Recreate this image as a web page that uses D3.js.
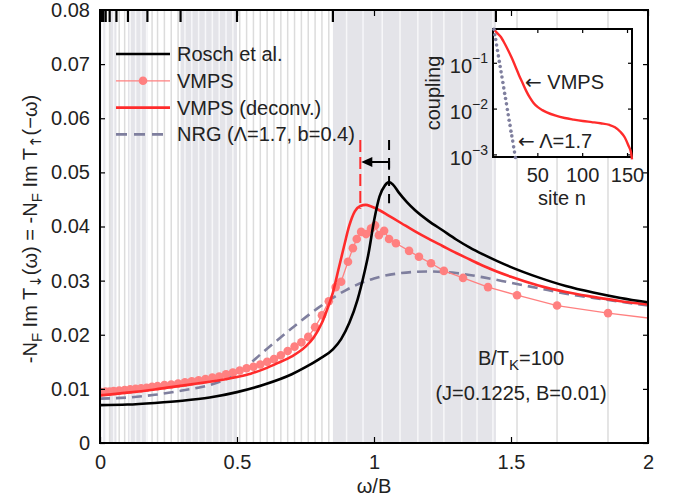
<!DOCTYPE html>
<html>
<head>
<meta charset="utf-8">
<script src="https://cdn.jsdelivr.net/npm/d3@7/dist/d3.min.js"></script>
<style>
body { margin: 0; background: #fff; }
text { font-family: "Liberation Sans", Arial, Helvetica, sans-serif; fill: #222; }
.arrow { font-family: "DejaVu Sans", sans-serif; }
</style>
</head>
<body>
<div id="chart"></div>
<script>
// ---- main panel data ----
var roschOmega = [0,0.1,0.2,0.3,0.4,0.5,0.6,0.7,0.75,0.8,0.85,0.88,0.91,0.94,0.965,0.98,1.0,1.02,1.04,1.055,1.07,1.09,1.12,1.15,1.2,1.25,1.3,1.35,1.4,1.45,1.5,1.6,1.7,1.8,1.9,2.0];
var roschValue = [0.0070,0.0071,0.0074,0.0078,0.0084,0.0094,0.0108,0.0127,0.0140,0.0155,0.0173,0.0192,0.0222,0.0265,0.0315,0.0350,0.0410,0.0455,0.0476,0.0482,0.0477,0.0463,0.0445,0.0430,0.0410,0.0393,0.0376,0.0361,0.0348,0.0336,0.0325,0.0306,0.0290,0.0278,0.0268,0.0260];

var deconvOmega = [0,0.1,0.2,0.3,0.4,0.5,0.55,0.6,0.65,0.7,0.75,0.78,0.81,0.83,0.85,0.87,0.89,0.91,0.93,0.95,0.97,0.99,1.02,1.05,1.1,1.15,1.2,1.25,1.3,1.35,1.4,1.5,1.6,1.7,1.8,1.9,2.0];
var deconvValue = [0.0088,0.0093,0.0099,0.0106,0.0113,0.0122,0.0128,0.0137,0.0148,0.0160,0.0178,0.0195,0.0222,0.0248,0.0278,0.0320,0.0362,0.0402,0.0428,0.0438,0.0440,0.0437,0.0430,0.0421,0.0406,0.0391,0.0377,0.0364,0.0351,0.0339,0.0327,0.0307,0.0291,0.0279,0.0270,0.0262,0.0256];

var nrgOmega = [0,0.1,0.2,0.3,0.4,0.5,0.6,0.7,0.8,0.9,1.0,1.1,1.2,1.3,1.4,1.5,1.6,1.7,1.8,1.9,2.0];
var nrgValue = [0.0082,0.0084,0.0089,0.0097,0.0107,0.0128,0.0170,0.0212,0.0251,0.0283,0.0304,0.0314,0.0317,0.0314,0.0306,0.0296,0.0286,0.0276,0.0268,0.0261,0.0254];

var vmpsOmega = [0.005,0.02,0.035,0.05,0.07,0.09,0.11,0.13,0.15,0.17,
  0.19,0.21,0.235,0.26,0.285,0.31,0.335,0.36,0.385,0.41,
  0.435,0.46,0.485,0.51,0.535,0.56,0.585,0.61,0.635,0.66,
  0.685,0.71,0.735,0.76,0.785,0.81,0.835,0.86,0.88,0.905,
  0.923,0.937,0.953,0.971,0.989,1.004,1.018,1.037,1.055,1.08,
  1.128,1.164,1.208,1.255,1.325,1.416,1.522,1.668,1.854,2.08];
var vmpsValue = [0.0094,0.0095,0.0095,0.0096,0.0097,0.0098,0.0099,0.0100,0.0101,0.0102,
  0.0104,0.0105,0.0107,0.0108,0.0110,0.0112,0.0114,0.0116,0.0118,0.0121,
  0.0123,0.0127,0.0130,0.0134,0.0138,0.0141,0.0145,0.0150,0.0155,0.0162,
  0.0170,0.0178,0.0186,0.0196,0.0214,0.0236,0.0262,0.0288,0.0298,0.0335,
  0.0360,0.0377,0.0390,0.0386,0.0396,0.0402,0.0384,0.0392,0.0377,0.0369,
  0.0355,0.0344,0.0332,0.0318,0.0305,0.0288,0.0273,0.0254,0.0240,0.0226];

// energies of the VMPS chain (thin vertical lines)
var vmpsLines = [0.005,0.02,0.035,0.05,0.07,0.09,0.11,0.13,0.15,0.17,
  0.19,0.21,0.235,0.26,0.285,0.31,0.335,0.36,0.385,0.41,
  0.435,0.46,0.485,0.51,0.535,0.56,0.585,0.61,0.635,0.66,
  0.685,0.71,0.735,0.76,0.785,0.81,0.835,
  0.90,0.96,1.03,1.095,1.16,1.21,1.255,1.32,1.376,1.434,1.522,1.668,1.854];

// NRG energies (top ticks and alternating bands)
var nrgTicks = [1.445,0.85,0.5,0.294,0.173,0.102,0.06,0.0353,0.0208,0.0122,0.0072,0.0042,0.0025,0.0015];

var xTicks = [0,0.5,1,1.5,2];
var yTicks = [0,0.01,0.02,0.03,0.04,0.05,0.06,0.07,0.08];

var peakVmps = 0.95, peakRosch = 1.055;

// ---- inset data ----
var insetVmpsSite = [1,5,9,13,17,21,25,29,33,37,41,45,50,55,60,70,80,90,100,110,120,130,136,142,147,151,154,155];
var insetVmpsCoupling = [0.55,0.45,0.37,0.27,0.19,0.13,0.085,0.055,0.037,0.025,0.018,0.0138,0.011,0.0095,0.0085,0.0072,0.0064,0.0059,0.0055,0.0052,0.0049,0.0045,0.0040,0.0032,0.0024,0.0016,0.0011,0.0008];
var insetNrgSite = [1,2,3,4,5,6,7,8,9,10,11,12,13,14,15,16,17,18,19,20,21,22,23,24,25];
var insetNrgCoupling = [0.55,0.42,0.33,0.25,0.19,0.145,0.11,0.085,0.065,0.05,0.038,0.029,0.022,0.017,0.013,0.0098,0.0075,0.0057,0.0044,0.0033,0.0026,0.002,0.0015,0.00115,0.00088];
var insetXTicks = [50,100,150];
var insetYTicks = [0.1,0.01,0.001];

var W = 674, H = 497;
var pLeft = 100, pRight = 648, pTop = 10, pBottom = 443;

var svg = d3.select("#chart").append("svg")
    .attr("width", W)
    .attr("height", H);

var x = d3.scaleLinear().domain([0, 2]).range([pLeft, pRight]);
var y = d3.scaleLinear().domain([0, 0.08]).range([pBottom, pTop]);

svg.append("clipPath").attr("id", "plotclip")
    .append("rect")
    .attr("x", pLeft).attr("y", pTop)
    .attr("width", pRight - pLeft).attr("height", pBottom - pTop);

var plot = svg.append("g").attr("clip-path", "url(#plotclip)");

// alternating grey bands between NRG energies
var bands = [];
for (var i = 0; i < nrgTicks.length - 1; i++) {
    bands.push({ lo: nrgTicks[i + 1], hi: nrgTicks[i], grey: i % 2 === 0 });
}
plot.selectAll("rect.band")
    .data(bands.filter(d => d.grey))
    .enter().append("rect")
    .attr("class", "band")
    .attr("x", d => x(d.lo))
    .attr("width", d => x(d.hi) - x(d.lo))
    .attr("y", pTop)
    .attr("height", pBottom - pTop)
    .attr("fill", "#e4e4e9");

function inGrey(w) {
    return bands.some(b => b.grey && w >= b.lo && w < b.hi);
}

plot.selectAll("line.vmps-level")
    .data(vmpsLines)
    .enter().append("line")
    .attr("class", "vmps-level")
    .attr("x1", d => x(d)).attr("x2", d => x(d))
    .attr("y1", pTop).attr("y2", pBottom)
    .attr("stroke", d => inGrey(d) ? "#f7f7f9" : "#dcdcdc")
    .attr("stroke-width", 1.5);

// curves
var nrgData = nrgOmega.map((w, i) => [w, nrgValue[i]]);
var roschData = roschOmega.map((w, i) => [w, roschValue[i]]);
var deconvData = deconvOmega.map((w, i) => [w, deconvValue[i]]);
var vmpsData = vmpsOmega.map((w, i) => [w, vmpsValue[i]]);

var smooth = d3.line().x(d => x(d[0])).y(d => y(d[1])).curve(d3.curveMonotoneX);
var straight = d3.line().x(d => x(d[0])).y(d => y(d[1]));

plot.append("path")
    .attr("d", smooth(nrgData))
    .attr("fill", "none")
    .attr("stroke", "#7f7f9e")
    .attr("stroke-width", 2.6)
    .attr("stroke-dasharray", "10,6");

plot.append("path")
    .attr("d", straight(vmpsData))
    .attr("fill", "none")
    .attr("stroke", "#ff8080")
    .attr("stroke-width", 1.3);

plot.selectAll("circle.vmps")
    .data(vmpsData)
    .enter().append("circle")
    .attr("class", "vmps")
    .attr("cx", d => x(d[0]))
    .attr("cy", d => y(d[1]))
    .attr("r", 4.3)
    .attr("fill", "#ff8080");

plot.append("path")
    .attr("d", smooth(deconvData))
    .attr("fill", "none")
    .attr("stroke", "#ff2b2b")
    .attr("stroke-width", 2.6);

plot.append("path")
    .attr("d", smooth(roschData))
    .attr("fill", "none")
    .attr("stroke", "#000")
    .attr("stroke-width", 2.6);

// peak markers and shift arrow
svg.append("line")
    .attr("x1", x(peakVmps)).attr("x2", x(peakVmps))
    .attr("y1", y(0.056)).attr("y2", y(0.0433))
    .attr("stroke", "#ff2b2b").attr("stroke-width", 2)
    .attr("stroke-dasharray", "12,5");
svg.append("line")
    .attr("x1", x(peakRosch)).attr("x2", x(peakRosch))
    .attr("y1", y(0.056)).attr("y2", y(0.0443))
    .attr("stroke", "#000").attr("stroke-width", 2)
    .attr("stroke-dasharray", "10,8");
svg.append("path")
    .attr("d", "M" + x(peakRosch) + "," + y(0.0505) + "V" + y(0.0519) + "H" + (x(peakVmps) + 10))
    .attr("fill", "none").attr("stroke", "#000").attr("stroke-width", 2);
svg.append("path")
    .attr("d", "M" + (x(peakVmps) + 1) + "," + y(0.0519) + "l11,-5v10z")
    .attr("fill", "#000");

// NRG energy ticks on top
svg.selectAll("line.nrg-tick")
    .data(nrgTicks)
    .enter().append("line")
    .attr("class", "nrg-tick")
    .attr("x1", d => x(d)).attr("x2", d => x(d))
    .attr("y1", pTop).attr("y2", pTop + 12)
    .attr("stroke", "#000").attr("stroke-width", 2.2);

// axes
function styleAxis(g) {
    g.attr("font-size", 20).attr("font-family", null);
    g.selectAll(".domain").remove();
    g.selectAll(".tick line").attr("stroke", "#000").attr("stroke-width", 1.2);
    g.selectAll(".tick text").attr("fill", "#222");
}
svg.append("g")
    .attr("transform", "translate(0," + pBottom + ")")
    .call(d3.axisBottom(x).tickValues(xTicks).tickSizeInner(-6).tickSizeOuter(0).tickPadding(12).tickFormat(d3.format("")))
    .call(styleAxis);
svg.append("g")
    .attr("transform", "translate(0," + pTop + ")")
    .call(d3.axisTop(x).tickValues(xTicks).tickSizeInner(-6).tickSizeOuter(0).tickFormat(""))
    .call(styleAxis);
svg.append("g")
    .attr("transform", "translate(" + pLeft + ",0)")
    .call(d3.axisLeft(y).tickValues(yTicks).tickSizeInner(-5).tickSizeOuter(0).tickPadding(10)
        .tickFormat(d => d === 0 ? "0" : d3.format(".2f")(d)))
    .call(styleAxis);
svg.append("g")
    .attr("transform", "translate(" + pRight + ",0)")
    .call(d3.axisRight(y).tickValues(yTicks).tickSizeInner(-5).tickSizeOuter(0).tickFormat(""))
    .call(styleAxis);

svg.append("rect")
    .attr("x", pLeft).attr("y", pTop)
    .attr("width", pRight - pLeft).attr("height", pBottom - pTop)
    .attr("fill", "none").attr("stroke", "#000").attr("stroke-width", 2);

// axis labels
svg.append("text")
    .attr("x", (pLeft + pRight) / 2).attr("y", 486)
    .attr("text-anchor", "middle").attr("dominant-baseline", "central")
    .attr("font-size", 20)
    .text("ω/B");

var ylab = svg.append("text")
    .attr("transform", "translate(30," + 229 + ") rotate(-90)")
    .attr("text-anchor", "middle").attr("dominant-baseline", "central")
    .attr("font-size", 20);
var ylabParts = [["-N", 0], ["F", 1], [" Im T", 0], ["↓", 2], ["(ω) = -N", 0], ["F", 1], [" Im T", 0], ["↑", 2], ["(−ω)", 0]];
var wasSub = false;
ylabParts.forEach(function(p) {
    var t = ylab.append("tspan").text(p[0]);
    if (p[1]) {
        t.attr("dy", 6).attr("font-size", 15);
        if (p[1] === 2) t.attr("class", "arrow");
        wasSub = true;
    } else if (wasSub) { t.attr("dy", -6); wasSub = false; }
});

// legend
var legendRows = [
    { label: "Rosch et al.", color: "#000", width: 2.6, dash: null, marker: false },
    { label: "VMPS", color: "#ff8080", width: 1.3, dash: null, marker: true },
    { label: "VMPS (deconv.)", color: "#ff2b2b", width: 2.6, dash: null, marker: false },
    { label: "NRG (Λ=1.7, b=0.4)", color: "#7f7f9e", width: 2.6, dash: "11,7", marker: false }
];
var legend = svg.append("g");
legendRows.forEach(function(r, i) {
    var yy = 54 + i * 26.8;
    legend.append("line")
        .attr("x1", 116).attr("x2", 170).attr("y1", yy).attr("y2", yy)
        .attr("stroke", r.color).attr("stroke-width", r.width)
        .attr("stroke-dasharray", r.dash);
    if (r.marker) {
        legend.append("circle").attr("cx", 143).attr("cy", yy).attr("r", 4.3).attr("fill", r.color);
    }
    legend.append("text")
        .attr("x", 177).attr("y", yy)
        .attr("dominant-baseline", "central")
        .attr("font-size", 20)
        .text(r.label);
});

// parameter annotation
var ann = svg.append("text")
    .attr("x", 521).attr("y", 358)
    .attr("text-anchor", "middle").attr("dominant-baseline", "central")
    .attr("font-size", 20);
ann.append("tspan").text("B/T");
ann.append("tspan").attr("dy", 6).attr("font-size", 15).text("K");
ann.append("tspan").attr("dy", -6).text("=100");
svg.append("text")
    .attr("x", 521).attr("y", 393)
    .attr("text-anchor", "middle").attr("dominant-baseline", "central")
    .attr("font-size", 20)
    .text("(J=0.1225, B=0.01)");

// ---- inset ----
var ix = d3.scaleLinear().domain([0, 155]).range([493, 632]);
var iy = d3.scaleLog().domain([0.0009, 0.56]).range([157, 29]);

var inset = svg.append("g");
inset.append("rect")
    .attr("x", 493).attr("y", 29)
    .attr("width", 632 - 493).attr("height", 157 - 29)
    .attr("fill", "#fff");

inset.selectAll("line.ixt")
    .data(insetXTicks)
    .enter().append("line")
    .attr("x1", d => ix(d)).attr("x2", d => ix(d))
    .attr("y1", 157).attr("y2", 153)
    .attr("stroke", "#000").attr("stroke-width", 1.2);
inset.selectAll("line.ixt2")
    .data(insetXTicks)
    .enter().append("line")
    .attr("x1", d => ix(d)).attr("x2", d => ix(d))
    .attr("y1", 29).attr("y2", 33)
    .attr("stroke", "#000").attr("stroke-width", 1.2);
inset.selectAll("line.iyt")
    .data(insetYTicks)
    .enter().append("line")
    .attr("x1", 493).attr("x2", 497)
    .attr("y1", d => iy(d)).attr("y2", d => iy(d))
    .attr("stroke", "#000").attr("stroke-width", 1.2);
inset.selectAll("line.iyt2")
    .data(insetYTicks)
    .enter().append("line")
    .attr("x1", 632).attr("x2", 628)
    .attr("y1", d => iy(d)).attr("y2", d => iy(d))
    .attr("stroke", "#000").attr("stroke-width", 1.2);

inset.append("rect")
    .attr("x", 493).attr("y", 29)
    .attr("width", 632 - 493).attr("height", 157 - 29)
    .attr("fill", "none").attr("stroke", "#000").attr("stroke-width", 2);

var iline = d3.line().x(d => ix(d[0])).y(d => iy(d[1])).curve(d3.curveMonotoneX);
inset.append("path")
    .attr("d", iline(insetVmpsSite.map((n, i) => [n, insetVmpsCoupling[i]])))
    .attr("fill", "none").attr("stroke", "#ff2b2b").attr("stroke-width", 2.4);

inset.selectAll("circle.inrg")
    .data(insetNrgSite.map((n, i) => [n, insetNrgCoupling[i]]))
    .enter().append("circle")
    .attr("class", "inrg")
    .attr("cx", d => ix(d[0]))
    .attr("cy", d => iy(d[1]))
    .attr("r", 1.8)
    .attr("fill", "#7f7f9e");

inset.selectAll("text.ixl")
    .data(insetXTicks)
    .enter().append("text")
    .attr("x", d => ix(d)).attr("y", 175)
    .attr("text-anchor", "middle").attr("dominant-baseline", "central")
    .attr("font-size", 20)
    .text(d => d);

insetYTicks.forEach(function(v) {
    var t = inset.append("text")
        .attr("x", 488).attr("y", iy(v) + 3)
        .attr("text-anchor", "end").attr("dominant-baseline", "central")
        .attr("font-size", 20);
    t.append("tspan").text("10");
    t.append("tspan").attr("dy", -8).attr("font-size", 14).text("−" + Math.round(-Math.log10(v)));
});

inset.append("text")
    .attr("transform", "translate(433,93) rotate(-90)")
    .attr("text-anchor", "middle").attr("dominant-baseline", "central")
    .attr("font-size", 20)
    .text("coupling");
inset.append("text")
    .attr("x", 562).attr("y", 198)
    .attr("text-anchor", "middle").attr("dominant-baseline", "central")
    .attr("font-size", 20)
    .text("site n");

var noteVmps = inset.append("text")
    .attr("x", 525).attr("y", 82)
    .attr("dominant-baseline", "central")
    .attr("font-size", 20);
noteVmps.append("tspan").attr("class", "arrow").text("←");
noteVmps.append("tspan").text(" VMPS");

var noteNrg = inset.append("text")
    .attr("x", 518).attr("y", 141)
    .attr("dominant-baseline", "central")
    .attr("font-size", 20);
noteNrg.append("tspan").attr("class", "arrow").text("←");
noteNrg.append("tspan").text(" Λ=1.7");
</script>
</body>
</html>
